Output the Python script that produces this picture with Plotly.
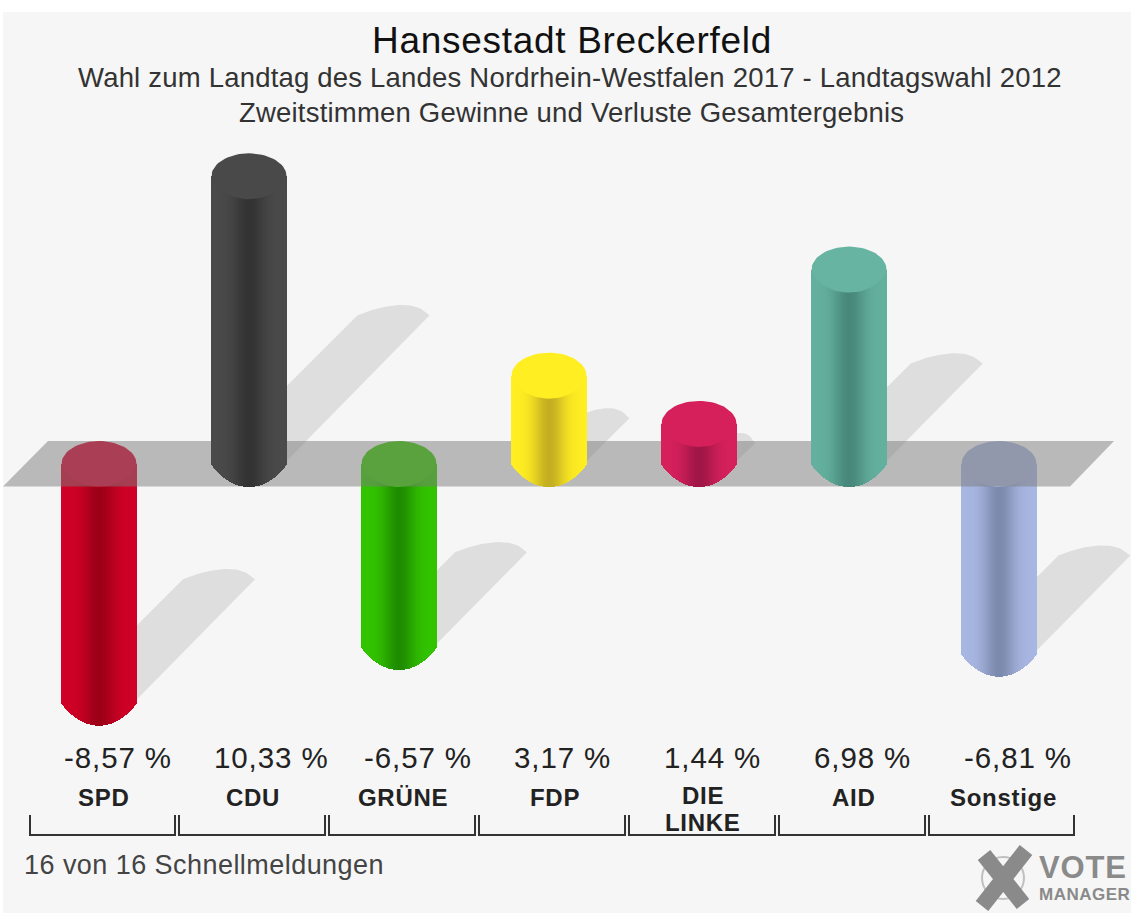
import math
import plotly.graph_objects as go

# ---- data -------------------------------------------------------------
parties = ["SPD", "CDU", "GRÜNE", "FDP", "DIE<br>LINKE", "AID", "Sonstige"]
values = [-8.57, 10.33, -6.57, 3.17, 1.44, 6.98, -6.81]
edge_colors = ["#d00026", "#4a4a4a", "#33c400", "#ffee22", "#d6205c", "#64b09e", "#a8b6e2"]
dark_colors = ["#9c0018", "#333333", "#1f8c00", "#c4ae22", "#a01646", "#47887a", "#7c8aae"]
cap_colors = ["#d8002c", "#494949", "#36c800", "#ffee22", "#d6205c", "#68b4a2", "#a8b4dc"]
title = "Hansestadt Breckerfeld"
subtitle_1 = "Wahl zum Landtag des Landes Nordrhein-Westfalen 2017 - Landtagswahl 2012"
subtitle_2 = "Zweitstimmen Gewinne und Verluste Gesamtergebnis"
footer = "16 von 16 Schnellmeldungen"

# ---- scale ------------------------------------------------------------
W, H = 1131, 913
X0, DX = 99.0, 150.0     # centre of first column, column spacing
Y0, DY = 464.0, 27.85    # zero line in pixels, pixels per percentage point
RX, RY = 37.5, 23.0      # cylinder radius
N = 75                   # strips per cylinder


def xd(px):
    return (px - X0) / DX


def yd(py):
    return (Y0 - py) / DY


def mix(a, b, t):
    ca = [int(a[i:i + 2], 16) for i in (1, 3, 5)]
    cb = [int(b[i:i + 2], 16) for i in (1, 3, 5)]
    return "rgb(%d,%d,%d)" % tuple(round(p + (q - p) * t) for p, q in zip(ca, cb))


def ellipse(i, v, steps=72):
    xs, ys = [], []
    for k in range(steps + 1):
        a = 2 * math.pi * k / steps
        c, s = math.cos(a), math.sin(a)
        xs.append(i + RX / DX * c)
        front = s < 0
        h = abs(s) ** (1.25 if front else 1.0)
        ys.append(v + RY / DY * (-h if front else h))
    return xs, ys


def smooth(pts, rounds=3):
    for _ in range(rounds):
        out = [pts[0]]
        for p, q in zip(pts, pts[1:]):
            out.append((0.75 * p[0] + 0.25 * q[0], 0.75 * p[1] + 0.25 * q[1]))
            out.append((0.25 * p[0] + 0.75 * q[0], 0.25 * p[1] + 0.75 * q[1]))
        out.append(pts[-1])
        pts = out
    return pts


def shadow(i, v):
    cx = X0 + DX * i
    yb = Y0 if v >= 0 else Y0 - DY * v
    m = abs(v)
    tx, ty = cx + 36 + 14 * m, yb - 14.4 * m
    s = min(1.0, (tx - cx) / 105.0)
    curve = smooth([(tx, ty), (tx - 10 * s, ty - 8), (tx - 26 * s, ty - 11),
                    (tx - 50 * s, ty - 8), (tx - 72 * s, ty)])
    sx, sy = curve[-1]
    inner = cx + 10
    pts = curve + [(inner, sy + (sx - inner)), (inner, yb - 3), (cx + RX, yb - 3)]
    return [xd(p[0]) for p in pts] + [xd(tx)], [yd(p[1]) for p in pts] + [yd(ty)]


fig = go.Figure()

# shadows
for i, v in enumerate(values):
    sx, sy = shadow(i, v)
    fig.add_trace(go.Scatter(x=sx, y=sy, mode="lines", fill="toself", fillcolor="#dedede",
                             line=dict(width=0), hoverinfo="skip", showlegend=False, zorder=0))


def body(i, v):
    xs, ys, bases, cols = [], [], [], []
    for k in range(N):
        u = (k + 0.5 - N / 2) / (N / 2)
        arc = RY / DY * max(0.0, 1 - u * u) ** 0.9
        if v >= 0:
            base, top = -arc, v
        else:
            base, top = v - arc, 0.0
        xs.append(i + u * RX / DX)
        bases.append(base)
        ys.append(top - base)
        cols.append(mix(edge_colors[i], dark_colors[i], math.exp(-(((u - 0.02) / 0.42) ** 2))))
    return go.Bar(x=xs, y=ys, base=bases, width=1.3 * (2 * RX / N) / DX,
                  marker=dict(color=cols, line=dict(width=0)), hoverinfo="skip", showlegend=False,
                  zorder=4 if v >= 0 else 1)


for i, v in enumerate(values):
    fig.add_trace(body(i, v))
    ex, ey = ellipse(i, v if v >= 0 else 0.0)
    fig.add_trace(go.Scatter(x=ex, y=ey, mode="lines", fill="toself", fillcolor=cap_colors[i],
                             line=dict(width=0), hoverinfo="skip", showlegend=False,
                             zorder=5 if v >= 0 else 2))

# zero plane
plane_x = [xd(3), xd(48), xd(1114), xd(1070), xd(3)]
plane_y = [yd(486.5), yd(441), yd(441), yd(486.5), yd(486.5)]
fig.add_trace(go.Scatter(x=plane_x, y=plane_y, mode="lines", fill="toself",
                         fillcolor="rgba(124,124,124,0.5)", line=dict(width=0),
                         hoverinfo="skip", showlegend=False, zorder=3))

FONT = "Liberation Sans, Arial, sans-serif"
ann = []


def text(px, py, s, size, color="#222222", anchor="center", spacing=0.0, bold=False):
    t = s
    if spacing:
        t = f'<span style="letter-spacing:{spacing}px">{t}</span>'
    if bold:
        t = f"<b>{t}</b>"
    ann.append(dict(x=px / W, y=1 - py / H, xref="paper", yref="paper", text=t, showarrow=False,
                    xanchor=anchor, yanchor="middle", align="center",
                    font=dict(family=FONT, size=size, color=color)))


text(572, 40, title, 37, "#111111", spacing=0.7)
text(570, 78, subtitle_1, 27.5, "#333333", spacing=0.2)
text(571, 112, subtitle_2, 27.5, "#333333", spacing=0.2)
text(22, 865, footer, 27, "#444444", "left", spacing=0.45)

label_nudge = [0, 0, 0, 2, 0, 0, 0]
for i, (p, v) in enumerate(zip(parties, values)):
    cx = X0 + DX * i
    s = f"{v:.2f}".replace(".", ",") + " %"
    text(cx - 37, 757, s, 29.5, "#222222", "left", spacing=0.9)
    if "<br>" in p:
        a, b = p.split("<br>")
        text(cx + 4, 795, a, 24, "#222222", spacing=0.7, bold=True)
        text(cx + 4, 822, b, 24, "#222222", spacing=0.7, bold=True)
    else:
        text(cx + 4 + label_nudge[i], 797, p, 24, "#222222", spacing=0.7, bold=True)

shapes = [dict(type="rect", xref="paper", yref="paper", x0=3 / W, x1=1, y0=0, y1=1 - 12 / H,
               fillcolor="#f6f6f6", line=dict(width=0), layer="below")]


def pline(x0, y0, x1, y1, color, width):
    shapes.append(dict(type="line", xref="paper", yref="paper", x0=x0 / W, x1=x1 / W,
                       y0=1 - y0 / H, y1=1 - y1 / H, line=dict(color=color, width=width)))


for i in range(len(values)):
    a = 30 + DX * i - (0 if i == 0 else 1)
    b = 175 + DX * i + (0 if i < 6 else -1)
    pline(a, 815, a, 835, "#333333", 2)
    pline(a - 1, 835, b + 1, 835, "#333333", 2)
    pline(b, 815, b, 835, "#333333", 2)

# logo
LOGO = "#8a8a8a"
shapes.append(dict(type="circle", xref="paper", yref="paper", x0=982 / W, x1=1024 / W,
                   y0=1 - 899 / H, y1=1 - 857 / H, line=dict(color="#c0c0c0", width=2)))
pline(984, 855, 1023, 904, LOGO, 16)
pline(1026, 850, 982, 906, LOGO, 16)
text(1037, 867, "VOTE", 31, LOGO, "left", bold=True, spacing=0.8)
text(1037, 894, "MANAGER", 17, LOGO, "left", bold=True, spacing=0.5)

fig.update_layout(
    width=W, height=H, margin=dict(l=0, r=0, t=0, b=0), autosize=False,
    paper_bgcolor="#ffffff", plot_bgcolor="rgba(0,0,0,0)",
    barmode="overlay", bargap=0, showlegend=False,
    xaxis=dict(visible=False, range=[xd(0), xd(W)], fixedrange=True),
    yaxis=dict(visible=False, range=[yd(H), yd(0)], fixedrange=True),
    annotations=ann, shapes=shapes,
)

fig.write_html("out.html", config=dict(displayModeBar=False),
               post_script="document.body.style.margin='0';document.body.style.overflow='hidden';")
